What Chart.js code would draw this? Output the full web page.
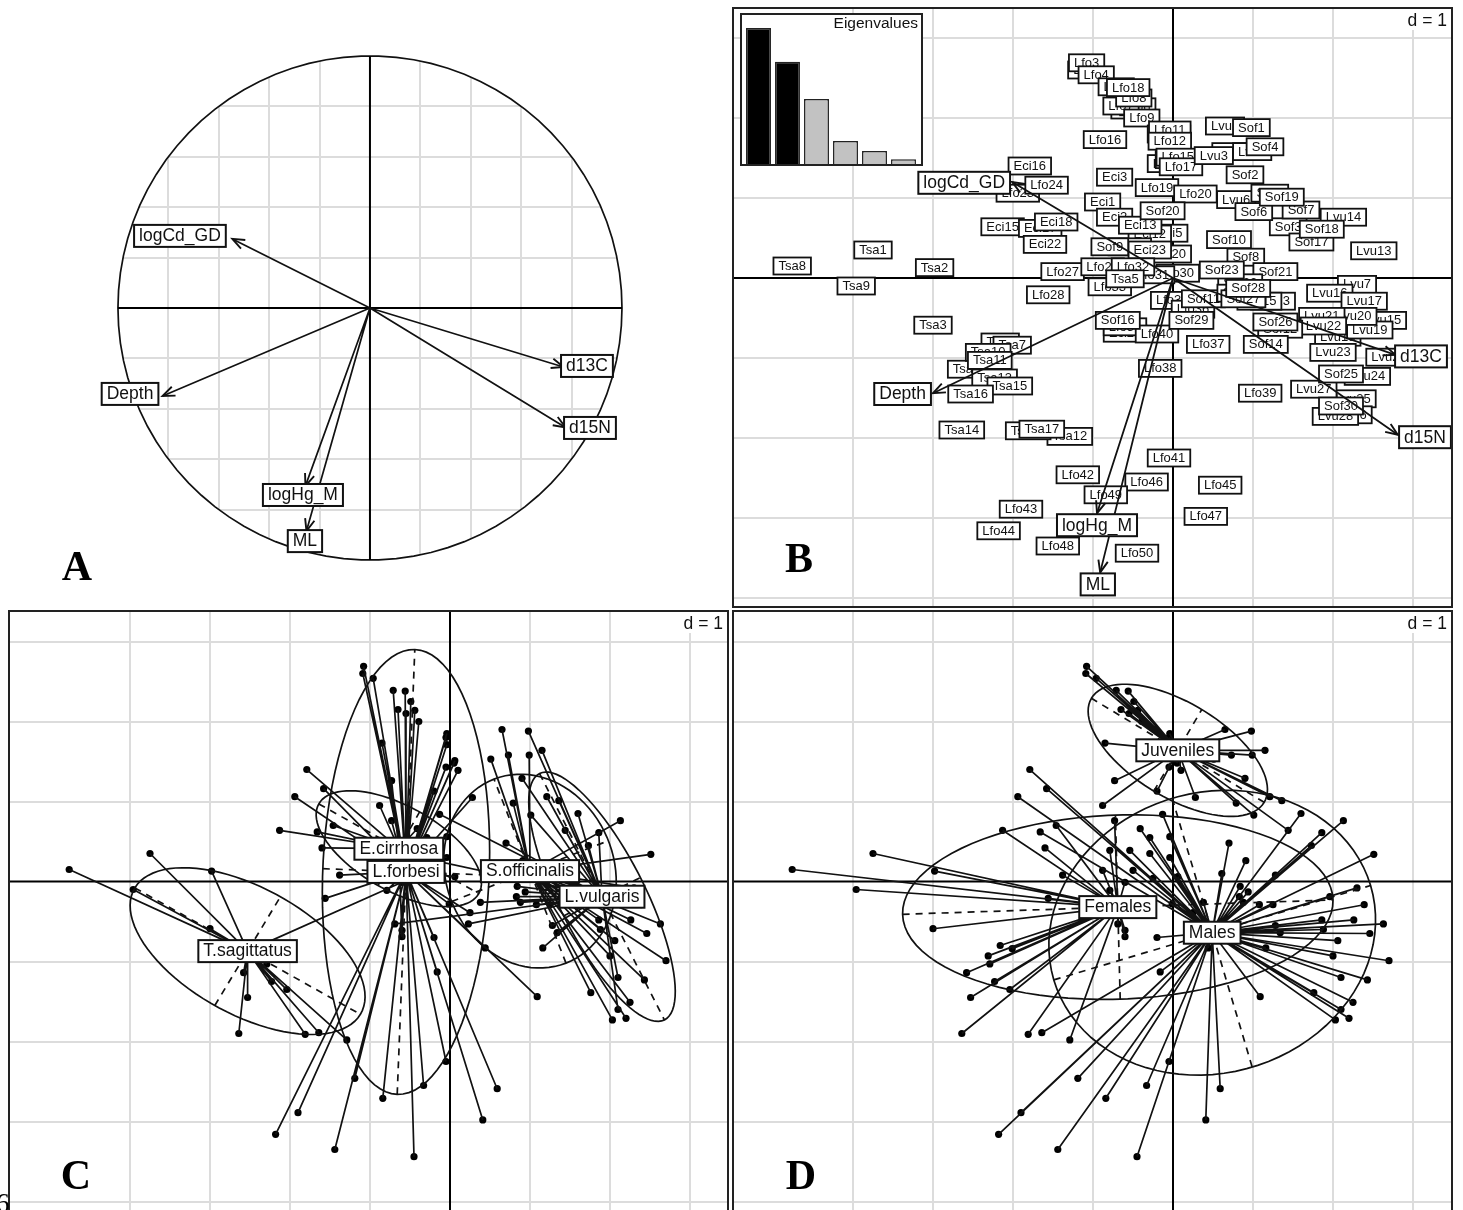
<!DOCTYPE html>
<html lang="en">
<head>
<meta charset="utf-8">
<title>PCA panels</title>
<script src="https://cdn.jsdelivr.net/npm/chart.js@4"></script>
<style>
  html, body { margin: 0; background: #fff; overflow: hidden; width: 1463px; height: 1210px; }
  canvas { position: absolute; }
  #cut { position: absolute; left: -4px; top: 1188px; font: 27px "Liberation Serif"; color: #000; }
</style>
</head>
<body>
<canvas id="panelA" width="730" height="606" style="left:0;top:0"></canvas>
<canvas id="panelB" width="721" height="601" style="left:732px;top:7px"></canvas>
<canvas id="inset" width="183" height="153" style="left:740px;top:13px"></canvas>
<canvas id="panelC" width="721" height="600" style="left:8px;top:610px"></canvas>
<canvas id="panelD" width="721" height="600" style="left:732px;top:610px"></canvas>
<div id="cut">6</div>
<script>
// Samples, one set of arrays per species. Stage: J juvenile, F female, M male
const eciNames = ["Eci1","Eci2","Eci3","Eci5","Eci12","Eci13","Eci14","Eci15","Eci16","Eci17","Eci18","Eci20","Eci21","Eci22","Eci23"];
const eciX = [-0.88,-0.73,-0.73,-0.04,-0.29,-0.41,-0.54,-2.13,-1.79,-1.66,-1.46,-0.04,-0.60,-1.60,-0.29];
const eciY = [0.95,0.76,1.26,0.56,0.55,0.66,0.39,0.64,1.40,0.62,0.70,0.30,-0.69,0.42,0.35];
const eciStage = ["J","F","J","M","M","M","M","F","M","M","F","M","F","F","M"];

const lfoNames = ["Lfo1","Lfo2","Lfo3","Lfo4","Lfo5","Lfo6","Lfo7","Lfo8","Lfo9","Lfo10","Lfo11","Lfo12","Lfo13","Lfo14","Lfo15","Lfo16","Lfo17","Lfo18","Lfo19","Lfo20","Lfo23","Lfo24","Lfo27","Lfo28","Lfo29","Lfo30","Lfo31","Lfo32","Lfo33","Lfo34","Lfo35","Lfo36","Lfo37","Lfo38","Lfo39","Lfo40","Lfo41","Lfo42","Lfo43","Lfo44","Lfo45","Lfo46","Lfo47","Lfo48","Lfo49","Lfo50"];
const lfoX = [-1.09,-0.55,-1.08,-0.96,-0.71,-0.44,-0.65,-0.49,-0.39,-0.05,-0.04,-0.04,-0.05,0.05,0.06,-0.85,0.10,-0.56,-0.20,0.28,-1.94,-1.58,-1.38,-1.56,-0.88,0.06,-0.25,-0.50,-0.79,-0.60,-0.01,0.25,0.44,-0.16,1.09,-0.20,-0.05,-1.19,-1.90,-2.18,0.59,-0.33,0.41,-1.44,-0.84,-0.45];
const lfoY = [2.60,2.10,2.69,2.54,2.39,2.14,2.15,2.25,2.00,1.80,1.85,1.71,1.43,1.48,1.51,1.73,1.39,2.38,1.13,1.05,1.06,1.16,0.08,-0.21,0.14,0.06,0.04,0.14,-0.11,-0.61,-0.28,-0.39,-0.83,-1.13,-1.44,-0.70,-2.25,-2.46,-2.89,-3.16,-2.59,-2.55,-2.98,-3.35,-2.71,-3.44];
const lfoStage = ["J","J","J","J","J","J","J","J","J","J","J","J","J","J","J","J","J","J","J","J","M","M","F","F","F","M","M","M","F","F","M","M","M","M","M","M","M","M","M","M","M","M","M","M","M","M"];

const lvuNames = ["Lvu1","Lvu2","Lvu3","Lvu4","Lvu6","Lvu7","Lvu13","Lvu14","Lvu15","Lvu16","Lvu17","Lvu18","Lvu19","Lvu20","Lvu21","Lvu22","Lvu23","Lvu24","Lvu25","Lvu26","Lvu27","Lvu28","Lvu29"];
const lvuX = [0.65,0.73,0.51,0.99,0.79,2.30,2.51,2.13,2.63,1.96,2.39,2.06,2.46,2.26,1.86,1.88,2.00,2.43,2.25,2.20,1.76,2.03,2.70];
const lvuY = [1.90,1.58,1.53,1.58,0.98,-0.08,0.34,0.76,-0.53,-0.19,-0.29,-0.74,-0.65,-0.48,-0.48,-0.60,-0.93,-1.23,-1.51,-1.71,-1.39,-1.73,-0.99];
const lvuStage = ["J","J","J","J","J","M","M","M","M","M","M","M","M","M","M","M","M","M","M","M","M","M","M"];

const sofNames = ["Sof1","Sof2","Sof3","Sof4","Sof5","Sof6","Sof7","Sof8","Sof9","Sof10","Sof11","Sof12","Sof13","Sof14","Sof15","Sof16","Sof17","Sof18","Sof19","Sof20","Sof21","Sof22","Sof23","Sof24","Sof25","Sof26","Sof27","Sof28","Sof29","Sof30"];
const sofX = [0.98,0.90,1.44,1.15,1.21,1.01,1.60,0.91,-0.79,0.70,0.38,1.34,1.25,1.16,1.08,-0.69,1.73,1.86,1.36,-0.13,1.28,0.84,0.61,0.83,2.10,1.28,0.88,0.94,0.23,2.10];
const sofY = [1.88,1.29,0.64,1.64,1.06,0.83,0.85,0.26,0.39,0.48,-0.26,-0.64,-0.29,-0.83,-0.29,-0.53,0.45,0.61,1.01,0.84,0.08,-0.06,0.10,-0.19,-1.20,-0.55,-0.26,-0.13,-0.53,-1.60];
const sofStage = ["J","J","J","J","J","J","M","M","F","M","M","M","M","M","M","F","M","M","J","M","M","M","M","M","M","M","M","M","M","M"];

const tsaNames = ["Tsa1","Tsa2","Tsa3","Tsa4","Tsa5","Tsa6","Tsa7","Tsa8","Tsa9","Tsa10","Tsa11","Tsa12","Tsa13","Tsa14","Tsa15","Tsa16","Tsa18","Tsa17"];
const tsaX = [-3.75,-2.98,-3.00,-2.16,-0.60,-2.58,-2.01,-4.76,-3.96,-2.31,-2.29,-1.29,-2.23,-2.64,-2.04,-2.53,-1.81,-1.64];
const tsaY = [0.35,0.13,-0.59,-0.80,-0.01,-1.14,-0.84,0.15,-0.10,-0.93,-1.03,-1.98,-1.25,-1.90,-1.35,-1.45,-1.91,-1.89];
const tsaStage = ["F","F","F","F","F","F","F","F","F","F","F","F","F","F","F","F","F","M"];

// Species groups (panel C): centre and the two half axes of each ellipse
const speciesNames = ["E.cirrhosa","L.forbesi","S.officinalis","L.vulgaris","T.sagittatus"];
const speciesCX = [-0.64,-0.55,1.00,1.90,-2.53];
const speciesCY = [0.41,0.12,0.13,-0.19,-0.87];
const speciesAX = [1.00,0.11,-0.45,0.78,1.41];
const speciesAY = [-0.56,2.78,1.15,-1.54,-0.79];
const speciesBX = [0.26,1.04,0.98,0.48,0.41];
const speciesBY = [0.46,-0.04,0.38,0.24,0.68];

// Stage groups (panel D)
const stageNames = ["Juveniles","Females","Males"];
const stageCodes = ["J","F","M"];
const stageCX = [0.06,-0.69,0.49];
const stageCY = [1.64,-0.32,-0.64];
const stageAX = [-1.08,2.69,1.98];
const stageAY = [0.65,0.09,0.59];
const stageBX = [0.30,-0.03,0.50];
const stageBY = [0.51,1.15,-1.68];

// Variables: arrows and their labels
const varNames = ["logCd_GD","Depth","logHg_M","ML","d13C","d15N"];
const circleArrowX = [-0.546,-0.823,-0.256,-0.252,0.768,0.776];
const circleArrowY = [0.274,-0.349,-0.706,-0.885,-0.234,-0.474];
const circleLabelX = [-0.754,-0.952,-0.266,-0.258,0.861,0.873];
const circleLabelY = [0.286,-0.341,-0.742,-0.925,-0.230,-0.476];
const biplotArrowX = [-2.01,-3.00,-0.95,-0.91,2.78,2.81];
const biplotArrowY = [1.20,-1.44,-2.94,-3.68,-0.96,-1.96];
const biplotLabelX = [-2.61,-3.38,-0.95,-0.94,3.10,3.15];
const biplotLabelY = [1.19,-1.45,-3.09,-3.83,-0.98,-1.99];

const eigenCategories = ["1","2","3","4","5","6"];
const eigenValues = [2.35,1.77,1.13,0.41,0.24,0.10];
const eigenColors = ["#000","#000","#c2c2c2","#c2c2c2","#c2c2c2","#c2c2c2"];

const circleTicks = [-1,-0.8,-0.6,-0.4,-0.2,0.2,0.4,0.6,0.8,1];
const dTicksX = [-4,-3,-2,-1,1,2,3];
const dTicksY = [-4,-3,-2,-1,1,2,3];

const SANS = '"Liberation Sans"';
const groups = [
  { names: eciNames, x: eciX, y: eciY, stage: eciStage },
  { names: lfoNames, x: lfoX, y: lfoY, stage: lfoStage },
  { names: lvuNames, x: lvuX, y: lvuY, stage: lvuStage },
  { names: sofNames, x: sofX, y: sofY, stage: sofStage },
  { names: tsaNames, x: tsaX, y: tsaY, stage: tsaStage },
];
const samples = groups.flatMap((g, gi) =>
  g.names.map((n, i) => ({ name: n, x: g.x[i], y: g.y[i], stage: g.stage[i], species: gi }))
);

const GAP = { x: null, y: null };

function spokes(pts, cx, cy) {
  return pts.flatMap((p) => [{ x: cx, y: cy }, { x: p.x, y: p.y }, GAP]);
}
function lineSet(data, extra) {
  return Object.assign({ data, showLine: true, pointRadius: 0, borderColor: "#111", borderWidth: 1.7, spanGaps: false }, extra);
}
function axisSegments(n, cx, cy, ax, ay, bx, by) {
  const out = [];
  for (let i = 0; i < n; i++) {
    out.push({ x: cx[i] - ax[i], y: cy[i] - ay[i] }, { x: cx[i] + ax[i], y: cy[i] + ay[i] }, GAP);
    out.push({ x: cx[i] - bx[i], y: cy[i] - by[i] }, { x: cx[i] + bx[i], y: cy[i] + by[i] }, GAP);
  }
  return out;
}

function drawLabel(chart, item, big) {
  const { ctx, scales } = chart;
  const px = scales.x.getPixelForValue(item.x);
  const py = scales.y.getPixelForValue(item.y);
  ctx.font = (big ? "17.5px " : "13px ") + SANS;
  const w = ctx.measureText(item.text).width + 10;
  const h = big ? 22 : 17;
  ctx.fillStyle = "#fff";
  ctx.strokeStyle = "#111";
  ctx.lineWidth = big ? 2 : 1.8;
  ctx.fillRect(px - w / 2, py - h / 2, w, h);
  ctx.strokeRect(px - w / 2, py - h / 2, w, h);
  ctx.fillStyle = "#111";
  ctx.textAlign = "center";
  ctx.textBaseline = "middle";
  ctx.fillText(item.text, px, py + 0.5);
}

function drawEllipse(chart, e) {
  const { ctx, scales } = chart;
  ctx.beginPath();
  for (let k = 0; k <= 90; k++) {
    const t = (k / 90) * Math.PI * 2;
    const x = e.cx + e.ax * Math.cos(t) + e.bx * Math.sin(t);
    const y = e.cy + e.ay * Math.cos(t) + e.by * Math.sin(t);
    ctx.lineTo(scales.x.getPixelForValue(x), scales.y.getPixelForValue(y));
  }
  ctx.closePath();
  ctx.strokeStyle = "#111";
  ctx.lineWidth = 1.7;
  ctx.stroke();
}

function drawHead(chart, tip) {
  const { ctx, scales } = chart;
  const x0 = scales.x.getPixelForValue(0), y0 = scales.y.getPixelForValue(0);
  const x1 = scales.x.getPixelForValue(tip.x), y1 = scales.y.getPixelForValue(tip.y);
  const ang = Math.atan2(y1 - y0, x1 - x0);
  ctx.strokeStyle = "#111";
  ctx.lineWidth = 1.9;
  ctx.beginPath();
  ctx.moveTo(x1 - 13 * Math.cos(ang - 0.38), y1 - 13 * Math.sin(ang - 0.38));
  ctx.lineTo(x1, y1);
  ctx.lineTo(x1 - 13 * Math.cos(ang + 0.38), y1 - 13 * Math.sin(ang + 0.38));
  ctx.stroke();
}

// Everything around the datasets: axes through zero, frame, boxes, letters
const decor = {
  id: "decor",
  beforeDatasetsDraw(chart, args, o) {
    const { ctx, chartArea: a, scales } = chart;
    ctx.save();
    const zx = scales.x.getPixelForValue(0), zy = scales.y.getPixelForValue(0);
    if (o.circle) {
      // white outside the circle hides the ends of the grid
      const rx = scales.x.getPixelForValue(1) - zx;
      ctx.fillStyle = "#fff";
      ctx.beginPath();
      ctx.rect(a.left, a.top, a.right - a.left, a.bottom - a.top);
      ctx.arc(zx, zy, rx, 0, Math.PI * 2, true);
      ctx.fill("evenodd");
      drawEllipse(chart, { cx: 0, cy: 0, ax: 1, ay: 0, bx: 0, by: 1 });
      ctx.strokeStyle = "#000";
      ctx.lineWidth = 2;
      ctx.beginPath();
      ctx.moveTo(zx - rx, zy); ctx.lineTo(zx + rx, zy);
      ctx.moveTo(zx, zy - rx); ctx.lineTo(zx, zy + rx);
      ctx.stroke();
    } else {
      ctx.strokeStyle = "#000";
      ctx.lineWidth = 2;
      ctx.beginPath();
      ctx.moveTo(a.left, zy); ctx.lineTo(a.right, zy);
      ctx.moveTo(zx, a.top); ctx.lineTo(zx, a.bottom);
      ctx.stroke();
    }
    (o.under || []).forEach((it) => drawLabel(chart, it, false));
    ctx.restore();
  },
  afterDatasetsDraw(chart, args, o) {
    const { ctx, width, height } = chart;
    ctx.save();
    (o.ellipses || []).forEach((e) => drawEllipse(chart, e));
    (o.heads || []).forEach((t) => drawHead(chart, t));
    (o.over || []).forEach((it) => drawLabel(chart, it, true));
    if (o.frame) {
      ctx.strokeStyle = "#222";
      ctx.lineWidth = 2;
      // C and D run off the bottom of the page, so no bottom edge there
      ctx.strokeRect(1, 1, width - 2, o.openBottom ? height + 6 : height - 2);
      ctx.fillStyle = "#fff";
      ctx.fillRect(width - 52, 2, 50, 21);
      ctx.fillStyle = "#111";
      ctx.font = "17.5px " + SANS;
      ctx.textAlign = "right";
      ctx.textBaseline = "middle";
      ctx.fillText("d = 1", width - 6, 14);
    }
    if (o.letter) {
      ctx.fillStyle = "#000";
      ctx.font = 'bold 42px "Liberation Serif"';
      ctx.textAlign = "center";
      ctx.textBaseline = "middle";
      ctx.fillText(o.letter.text, o.letter.x, o.letter.y);
    }
    ctx.restore();
  },
};

function panel(id, range, ticksX, ticksY, datasets, decorOpts) {
  const axis = (min, max, ticks) => ({
    type: "linear", min, max,
    border: { display: false },
    ticks: { display: false },
    afterBuildTicks: (s) => { s.ticks = ticks.map((v) => ({ value: v })); },
    grid: { color: "#dcdcdc", lineWidth: 2, drawTicks: false },
  });
  return new Chart(document.getElementById(id), {
    type: "scatter",
    data: { datasets },
    plugins: [decor],
    options: {
      responsive: false,
      animation: false,
      layout: { padding: 0, autoPadding: false },
      plugins: { legend: { display: false }, tooltip: { enabled: false }, decor: decorOpts },
      scales: { x: axis(range[0], range[1], ticksX), y: axis(range[2], range[3], ticksY) },
    },
  });
}

const pointSet = {
  data: samples.map((s) => ({ x: s.x, y: s.y })),
  pointRadius: 3.6,
  pointBackgroundColor: "#000",
  pointBorderWidth: 0,
  showLine: false,
};

// A: correlation circle
panel("panelA", [-1.468, 1.4286, -1.1825, 1.222], circleTicks, circleTicks,
  [lineSet(spokes(circleArrowX.map((x, i) => ({ x, y: circleArrowY[i] })), 0, 0))],
  {
    circle: true,
    heads: circleArrowX.map((x, i) => ({ x, y: circleArrowY[i] })),
    over: varNames.map((text, i) => ({ text, x: circleLabelX[i], y: circleLabelY[i] })),
    letter: { text: "A", x: 77, y: 569 },
  });

// B: sample labels and biplot arrows
panel("panelB", [-5.5125, 3.5, -4.125, 3.3875], dTicksX, dTicksY,
  [lineSet(spokes(biplotArrowX.map((x, i) => ({ x, y: biplotArrowY[i] })), 0, 0), { borderWidth: 1.8 })],
  {
    frame: true,
    under: samples.map((s) => ({ text: s.name, x: s.x, y: s.y })),
    heads: biplotArrowX.map((x, i) => ({ x, y: biplotArrowY[i] })),
    over: varNames.map((text, i) => ({ text, x: biplotLabelX[i], y: biplotLabelY[i] })),
    letter: { text: "B", x: 67, y: 554 },
  });

// Eigenvalue inset
new Chart(document.getElementById("inset"), {
  type: "bar",
  data: {
    labels: eigenCategories,
    datasets: [{
      data: eigenValues,
      backgroundColor: eigenColors,
      borderColor: "#222",
      borderWidth: 1.5,
      barPercentage: 0.86,
      categoryPercentage: 1,
    }],
  },
  plugins: [{
    id: "insetBox",
    beforeDraw(chart) {
      chart.ctx.fillStyle = "#fff";
      chart.ctx.fillRect(0, 0, chart.width, chart.height);
    },
    afterDraw(chart) {
      const { ctx, width, height } = chart;
      ctx.save();
      ctx.strokeStyle = "#222";
      ctx.lineWidth = 2;
      ctx.strokeRect(1, 1, width - 2, height - 2);
      ctx.fillStyle = "#111";
      ctx.font = "15.5px " + SANS;
      ctx.textAlign = "right";
      ctx.textBaseline = "middle";
      ctx.fillText("Eigenvalues", width - 5, 11);
      ctx.restore();
    },
  }],
  options: {
    responsive: false,
    animation: false,
    layout: { padding: { left: 4, right: 5, top: 1, bottom: 1 } },
    plugins: { legend: { display: false }, tooltip: { enabled: false } },
    scales: {
      x: { display: false },
      y: { display: false, min: 0, max: 2.59 },
    },
  },
});

// C: stars and ellipses by species
const speciesStars = speciesNames.flatMap((_, i) =>
  spokes(samples.filter((s) => s.species === i), speciesCX[i], speciesCY[i])
);
panel("panelC", [-5.525, 3.4875, -4.106, 3.394], dTicksX, dTicksY,
  [
    lineSet(speciesStars),
    lineSet(axisSegments(5, speciesCX, speciesCY, speciesAX, speciesAY, speciesBX, speciesBY), { borderDash: [7, 6], borderWidth: 1.7 }),
    pointSet,
  ],
  {
    frame: true,
    openBottom: true,
    ellipses: speciesNames.map((_, i) => ({ cx: speciesCX[i], cy: speciesCY[i], ax: speciesAX[i], ay: speciesAY[i], bx: speciesBX[i], by: speciesBY[i] })),
    over: speciesNames.map((text, i) => ({ text, x: speciesCX[i], y: speciesCY[i] })),
    letter: { text: "C", x: 68, y: 568 },
  });

// D: stars and ellipses by stage
const stageStars = stageNames.flatMap((_, i) =>
  spokes(samples.filter((s) => s.stage === stageCodes[i]), stageCX[i], stageCY[i])
);
panel("panelD", [-5.5125, 3.5, -4.106, 3.394], dTicksX, dTicksY,
  [
    lineSet(stageStars),
    lineSet(axisSegments(3, stageCX, stageCY, stageAX, stageAY, stageBX, stageBY), { borderDash: [7, 6], borderWidth: 1.7 }),
    pointSet,
  ],
  {
    frame: true,
    openBottom: true,
    ellipses: stageNames.map((_, i) => ({ cx: stageCX[i], cy: stageCY[i], ax: stageAX[i], ay: stageAY[i], bx: stageBX[i], by: stageBY[i] })),
    over: stageNames.map((text, i) => ({ text, x: stageCX[i], y: stageCY[i] })),
    letter: { text: "D", x: 69, y: 568 },
  });
</script>
</body>
</html>
